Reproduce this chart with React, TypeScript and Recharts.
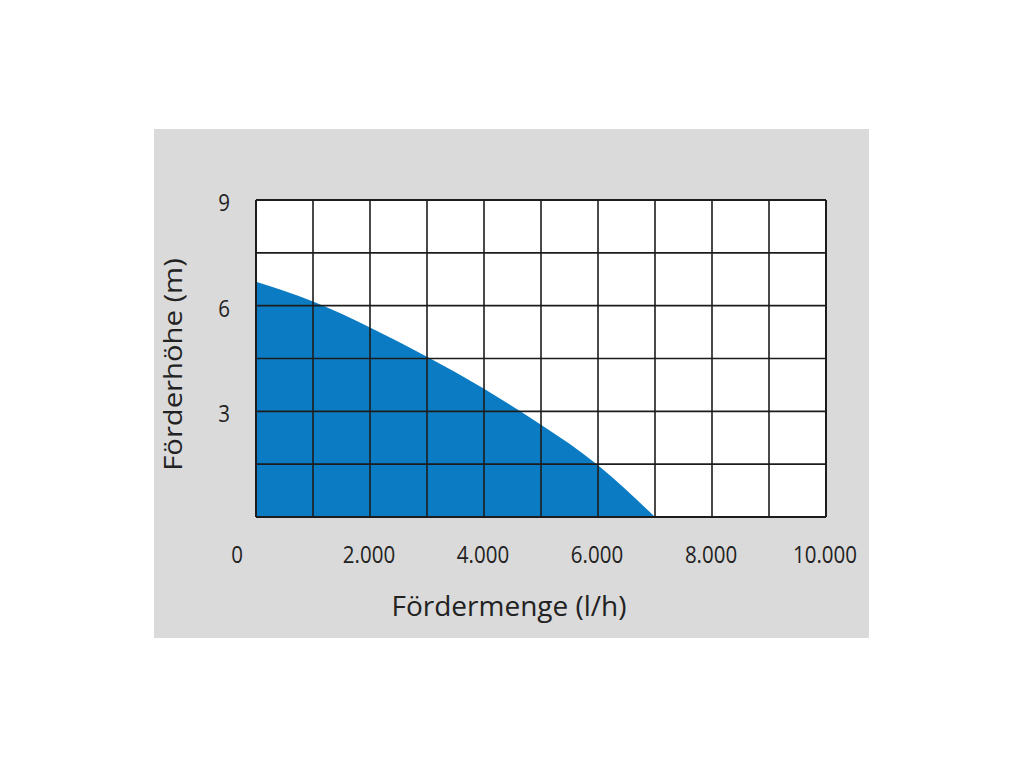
import React from "react";
import {
  ComposedChart,
  Area,
  XAxis,
  YAxis,
  CartesianGrid,
  ReferenceLine,
  Label,
} from "recharts";

const flowValues = [0, 1000, 2000, 3000, 4000, 5000, 6000, 7000];
const headValues = [6.68, 6.12, 5.38, 4.55, 3.64, 2.62, 1.47, 0];

const xTicks = [0, 1000, 2000, 3000, 4000, 5000, 6000, 7000, 8000, 9000, 10000];
const xLabelTicks = [0, 2000, 4000, 6000, 8000, 10000];
const yTicks = [0, 1.5, 3, 4.5, 6, 7.5, 9];
const yLabelTicks = [3, 6, 9];

const xTitle = "Fördermenge (l/h)";
const yTitle = "Förderhöhe (m)";

const data = flowValues.map((q, i) => ({ q, h: headValues[i] }));

const FONT = "'Open Sans', sans-serif";
const TEXT = "#222";
const LINE = "#1c1c1c";

const fmt = (v: number) =>
  v === 0 ? "0" : v.toLocaleString("de-DE", { useGrouping: true });

const stretchY = (cx: number, cy: number, s: number) =>
  `translate(${cx} ${cy}) scale(1 ${s}) translate(${-cx} ${-cy})`;

const XTick = (props: any) => {
  const { x, y, payload } = props;
  const v = payload.value;
  if (!xLabelTicks.includes(v)) return null;
  const shift = v === 0 ? -19 : -1;
  const cx = x + shift;
  const cy = y + 28;
  return (
    <text
      x={cx}
      y={cy}
      transform={stretchY(cx, cy, 1.15)}
      textAnchor="middle"
      dominantBaseline="central"
      fontFamily={FONT}
      fontSize={20.5}
      fill={TEXT}
    >
      {fmt(v)}
    </text>
  );
};

const YTick = (props: any) => {
  const { x, y, payload } = props;
  const v = payload.value;
  if (!yLabelTicks.includes(v)) return null;
  const cx = x - 24;
  const cy = y + 1.5;
  return (
    <text
      x={cx}
      y={cy}
      transform={stretchY(cx, cy, 1.15)}
      textAnchor="middle"
      dominantBaseline="central"
      fontFamily={FONT}
      fontSize={20.5}
      fill={TEXT}
    >
      {v}
    </text>
  );
};

const XTitle = (props: any) => {
  const vb = props.viewBox;
  const cx = vb.x + vb.width / 2 - 32;
  const cy = vb.y + 88;
  return (
    <text
      x={cx}
      y={cy}
      textAnchor="middle"
      dominantBaseline="central"
      fontFamily={FONT}
      fontSize={28}
      fill={TEXT}
    >
      {xTitle}
    </text>
  );
};

const YTitle = (props: any) => {
  const vb = props.viewBox;
  const cx = 18;
  const cy = vb.y + vb.height / 2 + 6;
  return (
    <text
      x={cx}
      y={cy}
      transform={`translate(${cx} ${cy}) rotate(-90) scale(1.17 1) translate(${-cx} ${-cy})`}
      textAnchor="middle"
      dominantBaseline="central"
      fontFamily={FONT}
      fontSize={25}
      fill={TEXT}
    >
      {yTitle}
    </text>
  );
};

export default function App() {
  return (
    <div
      style={{
        position: "absolute",
        left: 154,
        top: 129,
        width: 715,
        height: 509,
        background: "#dadada",
      }}
    >
      <ComposedChart
        width={715}
        height={509}
        data={data}
        margin={{ top: 71, right: 43, left: 0, bottom: 0 }}
      >
        <CartesianGrid fill="#ffffff" horizontal={false} vertical={false} />
        <XAxis
          dataKey="q"
          type="number"
          domain={[0, 10000]}
          ticks={xTicks}
          interval={0}
          height={121}
          axisLine={false}
          tickLine={false}
          tick={<XTick />}
        >
          <Label content={<XTitle />} />
        </XAxis>
        <YAxis
          type="number"
          domain={[0, 9]}
          ticks={yTicks}
          interval={0}
          width={102}
          axisLine={false}
          tickLine={false}
          tick={<YTick />}
        >
          <Label content={<YTitle />} />
        </YAxis>
        <Area
          dataKey="h"
          type="natural"
          stroke="none"
          fill="#0b7cc3"
          fillOpacity={1}
          baseValue={0}
          isAnimationActive={false}
        />
        {xTicks.map((v) => (
          <ReferenceLine
            key={"x" + v}
            x={v}
            stroke={LINE}
            strokeWidth={v === 0 || v === 10000 ? 2 : 1.6}
          />
        ))}
        {yTicks.map((v) => (
          <ReferenceLine
            key={"y" + v}
            y={v}
            stroke={LINE}
            strokeWidth={v === 0 || v === 9 ? 2 : 1.6}
          />
        ))}
      </ComposedChart>
    </div>
  );
}
